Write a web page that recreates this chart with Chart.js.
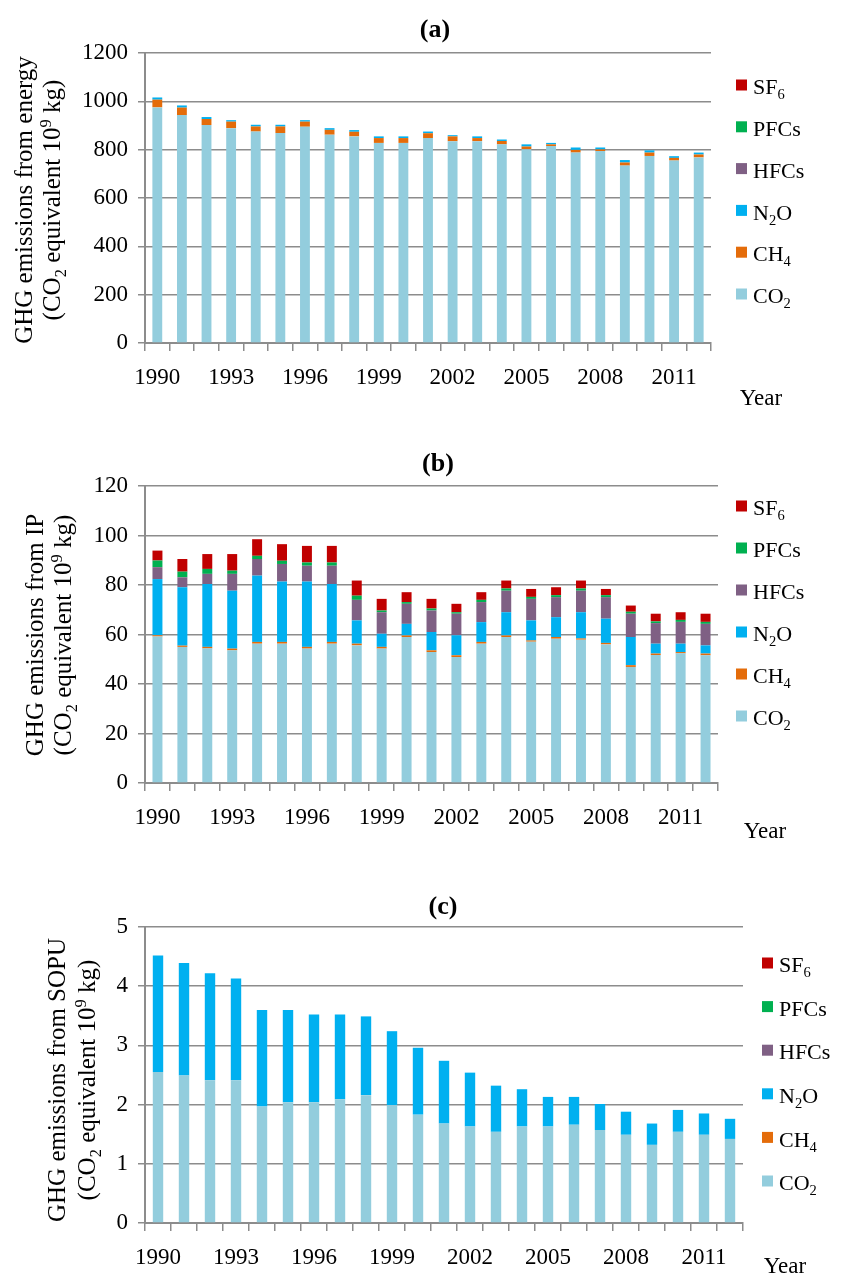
<!DOCTYPE html>
<html>
<head>
<meta charset="utf-8">
<script src="https://cdn.jsdelivr.net/npm/chart.js@4/dist/chart.umd.min.js"></script>
<style>
  html, body { margin: 0; padding: 0; background: #ffffff; }
  #wrap { position: relative; width: 843px; height: 1275px; }
  canvas { position: absolute; left: 0; }
</style>
</head>
<body>
<div id="wrap">
  <canvas id="pa" width="843" height="425" style="top:0px"></canvas>
  <canvas id="pb" width="843" height="425" style="top:425px"></canvas>
  <canvas id="pc" width="843" height="425" style="top:850px"></canvas>
</div>
<script>
// Categories and tick labels
const YEARS = ['1990','1991','1992','1993','1994','1995','1996','1997','1998','1999','2000','2001',
               '2002','2003','2004','2005','2006','2007','2008','2009','2010','2011','2012'];
const YEAR_TICKS = ['1990','1993','1996','1999','2002','2005','2008','2011'];
const GASES = ['CO2','CH4','N2O','HFCs','PFCs','SF6'];

// (a) energy, 10^9 kg CO2 equivalent
const energyCO2  = [975, 943, 902, 889, 875, 869, 895, 862, 855, 828, 828, 848, 835, 835, 822, 802, 815, 788, 794, 734, 774, 755, 768];
const energyCH4  = [32, 31, 25, 27, 21, 27, 21, 20, 19, 20, 20, 20, 20, 13, 14, 11, 7, 11, 7, 13, 14, 11, 12];
const energyN2O  = [9, 9, 8, 6, 7, 7, 6, 7, 7, 7, 7, 7, 5, 7, 6, 9, 6, 10, 8, 10, 9, 7, 8];
const energyHFCs = [0, 0, 0, 0, 0, 0, 0, 0, 0, 0, 0, 0, 0, 0, 0, 0, 0, 0, 0, 0, 0, 0, 0];
const energyPFCs = [0, 0, 0, 0, 0, 0, 0, 0, 0, 0, 0, 0, 0, 0, 0, 0, 0, 0, 0, 0, 0, 0, 0];
const energySF6  = [0, 0, 0, 0, 0, 0, 0, 0, 0, 0, 0, 0, 0, 0, 0, 0, 0, 0, 0, 0, 0, 0, 0];

// (b) industrial processes
const ipCO2  = [59.2, 55.0, 54.4, 53.6, 56.3, 56.3, 54.3, 56.3, 55.6, 54.3, 59.0, 52.9, 50.9, 56.3, 59.0, 57.1, 58.3, 57.9, 56.0, 46.9, 51.7, 52.4, 51.6];
const ipCH4  = [0.5, 0.5, 0.6, 0.7, 0.7, 0.7, 0.7, 0.7, 0.7, 0.7, 0.6, 0.7, 0.7, 0.7, 0.6, 0.5, 0.7, 0.5, 0.6, 0.7, 0.6, 0.5, 0.7];
const ipN2O  = [22.7, 23.6, 25.4, 23.4, 26.8, 24.4, 26.4, 23.4, 9.4, 5.3, 4.7, 7.4, 8.1, 8.0, 9.4, 8.1, 8.0, 10.6, 9.8, 11.4, 4.0, 3.4, 3.3];
const ipHFCs = [4.8, 4.0, 4.1, 6.8, 6.7, 7.1, 6.4, 7.4, 8.3, 8.7, 8.1, 8.7, 8.7, 8.1, 8.7, 8.7, 8.1, 8.7, 8.7, 9.4, 8.3, 8.8, 8.7];
const ipPFCs = [2.7, 2.3, 2.0, 1.3, 1.3, 1.3, 1.3, 1.3, 1.7, 0.7, 0.7, 0.8, 0.6, 0.9, 0.9, 0.8, 0.8, 0.9, 0.8, 0.8, 0.7, 0.8, 0.8];
const ipSF6  = [4.0, 5.1, 6.0, 6.7, 6.7, 6.7, 6.7, 6.7, 6.1, 4.7, 4.0, 3.9, 3.4, 3.1, 3.2, 3.2, 3.2, 3.2, 2.5, 2.5, 3.1, 3.1, 3.3];

// (c) solvent and other product use
const sopuCO2  = [2.55, 2.49, 2.41, 2.41, 1.97, 2.04, 2.04, 2.09, 2.16, 1.99, 1.83, 1.68, 1.63, 1.54, 1.63, 1.63, 1.66, 1.57, 1.49, 1.32, 1.54, 1.49, 1.42];
const sopuCH4  = [0, 0, 0, 0, 0, 0, 0, 0, 0, 0, 0, 0, 0, 0, 0, 0, 0, 0, 0, 0, 0, 0, 0];
const sopuN2O  = [1.97, 1.90, 1.81, 1.72, 1.63, 1.56, 1.48, 1.43, 1.33, 1.25, 1.13, 1.06, 0.91, 0.78, 0.63, 0.50, 0.47, 0.44, 0.39, 0.36, 0.37, 0.36, 0.34];
const sopuHFCs = [0, 0, 0, 0, 0, 0, 0, 0, 0, 0, 0, 0, 0, 0, 0, 0, 0, 0, 0, 0, 0, 0, 0];
const sopuPFCs = [0, 0, 0, 0, 0, 0, 0, 0, 0, 0, 0, 0, 0, 0, 0, 0, 0, 0, 0, 0, 0, 0, 0];
const sopuSF6  = [0, 0, 0, 0, 0, 0, 0, 0, 0, 0, 0, 0, 0, 0, 0, 0, 0, 0, 0, 0, 0, 0, 0];

// Styling
const GAS_COLORS = ['#93CDDD', '#E46C0A', '#00B0F0', '#7F6084', '#00B050', '#C00000'];
const GRID = '#8c8c8c';
const SERIF = '"Liberation Serif", "Times New Roman", serif';

// Text with chemical subscripts / superscripts: parts = [[text, shift]], shift -1 sub, +1 sup
function formulaParts(s) {
  const parts = [];
  for (const ch of s) {
    const shift = /\d/.test(ch) ? -1 : 0;
    const last = parts[parts.length - 1];
    if (last && last[1] === shift) last[0] += ch; else parts.push([ch, shift]);
  }
  return parts;
}
function richWidth(ctx, parts, size, weight) {
  let w = 0;
  for (const [t, sh] of parts) {
    ctx.font = (weight || '') + ' ' + (sh ? size * 0.66 : size) + 'px ' + SERIF;
    w += ctx.measureText(t).width;
  }
  return w;
}
function drawRich(ctx, parts, x, y, size, align, weight) {
  const w = richWidth(ctx, parts, size, weight);
  let cx = align === 'center' ? x - w / 2 : (align === 'right' ? x - w : x);
  ctx.textAlign = 'left';
  ctx.textBaseline = 'alphabetic';
  const base = y + size * 0.33;
  for (const [t, sh] of parts) {
    const fs = sh ? size * 0.66 : size;
    ctx.font = (weight || '') + ' ' + fs + 'px ' + SERIF;
    const dy = sh < 0 ? size * 0.22 : (sh > 0 ? -size * 0.36 : 0);
    ctx.fillText(t, cx, base + dy);
    cx += ctx.measureText(t).width;
  }
}

const AXIS_UNIT = [['(CO', 0], ['2', -1], [' equivalent 10', 0], ['9', 1], [' kg)', 0]];

// Panel annotations: tag, axis title, legend and axis name
const panelText = {
  id: 'panelText',
  afterDraw(chart, args, o) {
    const ctx = chart.ctx;
    ctx.save();
    ctx.fillStyle = '#000';
    // panel tag
    drawRich(ctx, [[o.tag, 0]], o.tagX, o.tagY, 26, 'center', 'bold');
    // rotated y-axis title (two lines)
    const yc = o.titleY;
    [[o.line1X, [[o.line1, 0]]], [o.line2X, AXIS_UNIT]].forEach(([lx, parts]) => {
      ctx.save();
      ctx.translate(lx, yc);
      ctx.rotate(-Math.PI / 2);
      drawRich(ctx, parts, 0, 0, 25, 'center');
      ctx.restore();
    });
    // legend, top entry is the last stacked series
    const ds = chart.data.datasets;
    for (let i = 0; i < ds.length; i++) {
      const d = ds[ds.length - 1 - i];
      const cy = o.legendY + i * o.legendGap;
      ctx.fillStyle = d.backgroundColor;
      ctx.fillRect(o.legendX, cy - 5.5, 11, 11);
      ctx.fillStyle = '#000';
      drawRich(ctx, formulaParts(d.label), o.legendX + 17, cy + 2, 22, 'left');
    }
    // x-axis name
    drawRich(ctx, [['Year', 0]], o.yearX, o.yearY, 23, 'center');
    ctx.restore();
  }
};

function makeChart(cfg) {
  const datasets = GASES.map((g, i) => ({
    label: g,
    data: cfg.series[i],
    backgroundColor: GAS_COLORS[i],
    borderWidth: 0,
    barPercentage: 0.4,
    categoryPercentage: 1.0
  }));
  return new Chart(document.getElementById(cfg.id), {
    type: 'bar',
    data: { labels: YEARS, datasets },
    plugins: [panelText],
    options: {
      responsive: false,
      animation: false,
      devicePixelRatio: 1,
      layout: { padding: { left: 0, right: cfg.padRight, top: cfg.padTop, bottom: 0 } },
      plugins: {
        legend: { display: false },
        tooltip: { enabled: false },
        panelText: cfg.text
      },
      scales: {
        x: {
          stacked: true,
          offset: true,
          afterFit(s) { s.height = cfg.xHeight; },
          grid: { display: true, drawOnChartArea: false, offset: true, tickLength: 8, color: GRID, lineWidth: 1.5 },
          border: { display: true, color: GRID, width: 2 },
          ticks: {
            autoSkip: false, maxRotation: 0, padding: 13, color: '#000',
            font: { family: SERIF, size: 23 },
            callback(v) { const l = YEARS[v]; return YEAR_TICKS.includes(l) ? l : ''; }
          }
        },
        y: {
          stacked: true,
          min: 0, max: cfg.yMax,
          afterFit(s) { s.width = 145; },
          grid: { color: GRID, lineWidth: 1.5, tickLength: 7 },
          border: { display: true, color: GRID, width: 2 },
          ticks: {
            stepSize: cfg.yStep, padding: 10, color: '#000', font: { family: SERIF, size: 23 },
            callback(v) { return String(v); }
          }
        }
      }
    }
  });
}

makeChart({
  id: 'pa', yMax: 1200, yStep: 200, padRight: 132, padTop: 53, xHeight: 82,
  series: [energyCO2, energyCH4, energyN2O, energyHFCs, energyPFCs, energySF6],
  text: { tag: '(a)', tagX: 435, tagY: 28, line1: 'GHG emissions from energy', line1X: 24, line2X: 52, titleY: 200,
          legendX: 736, legendY: 85, legendGap: 41.8, yearX: 761, yearY: 397 }
});
makeChart({
  id: 'pb', yMax: 120, yStep: 20, padRight: 125, padTop: 61, xHeight: 67,
  series: [ipCO2, ipCH4, ipN2O, ipHFCs, ipPFCs, ipSF6],
  text: { tag: '(b)', tagX: 438, tagY: 37, line1: 'GHG emissions from IP', line1X: 35, line2X: 63, titleY: 210,
          legendX: 736, legendY: 81, legendGap: 42, yearX: 765, yearY: 405 }
});
makeChart({
  id: 'pc', yMax: 5, yStep: 1, padRight: 100, padTop: 77, xHeight: 52,
  series: [sopuCO2, sopuCH4, sopuN2O, sopuHFCs, sopuPFCs, sopuSF6],
  text: { tag: '(c)', tagX: 443, tagY: 55, line1: 'GHG emissions from SOPU', line1X: 57, line2X: 87, titleY: 230,
          legendX: 762, legendY: 113, legendGap: 43.6, yearX: 785, yearY: 415 }
});
</script>
</body>
</html>
